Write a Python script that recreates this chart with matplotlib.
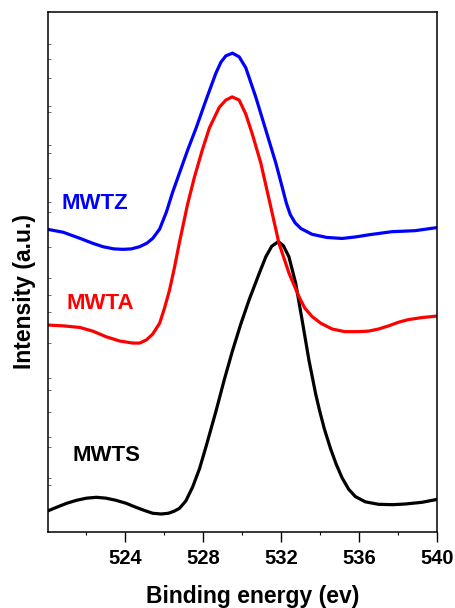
#!/usr/bin/env python3
"""O 1s XPS spectra of MWTS / MWTA / MWTZ, stacked."""

import matplotlib as mpl
import matplotlib.pyplot as plt

# binding energy (eV) and intensity (a.u., offset already applied)
MWTS_E = [520.0, 520.5, 520.98, 521.5, 522.0, 522.51, 523.0, 523.5, 524.04,
          524.5, 525.0, 525.4, 525.83, 526.2, 526.5, 526.77, 527.1, 527.45,
          527.8, 528.13, 528.64, 529.07, 529.47, 529.9, 530.34, 530.85, 531.2,
          531.5, 531.84, 532.1, 532.38, 532.73, 533.06, 533.41, 533.57, 533.75,
          533.95, 534.2, 534.51, 534.8, 535.11, 535.45, 535.79, 536.3, 536.98,
          537.7, 538.35, 539.2, 540.0]
MWTS_I = [4.03, 4.8, 5.51, 6.1, 6.5, 6.67, 6.5, 6.1, 5.51,
          4.8, 4.1, 3.6, 3.46, 3.6, 4.0, 4.55, 6.0, 8.7,
          12.2, 16.4, 23.2, 29.3, 34.6, 39.8, 44.6, 49.6, 52.9,
          54.9, 55.8, 55.0, 52.9, 47.8, 40.7, 33.0, 30.0, 26.6,
          23.4, 19.8, 16.1, 13.1, 10.4, 8.2, 6.8, 5.8, 5.32,
          5.25, 5.38, 5.7, 6.28]

MWTA_E = [520.0, 520.84, 521.66, 522.32, 523.02, 523.7, 524.38, 524.72, 525.07,
          525.39, 525.75, 526.0, 526.26, 526.5, 526.77, 527.18, 527.53, 527.94,
          528.3, 528.81, 529.15, 529.47, 529.83, 530.17, 530.51, 530.94, 531.45,
          531.87, 532.39, 532.9, 533.2, 533.57, 534.02, 534.6, 535.25, 535.96,
          536.47, 536.98, 537.49, 538.0, 538.5, 539.2, 540.0]
MWTA_I = [39.77, 39.6, 39.3, 38.6, 37.5, 36.7, 36.3, 36.3, 36.9,
          38.0, 40.1, 43.0, 46.5, 50.6, 55.7, 62.9, 68.1, 73.4,
          77.6, 81.6, 83.0, 83.6, 83.0, 80.3, 76.4, 70.9, 62.5,
          55.5, 49.7, 45.2, 43.0, 41.4, 40.1, 39.0, 38.5, 38.5,
          38.6, 39.0, 39.6, 40.3, 40.8, 41.2, 41.5]

MWTZ_E = [520.0, 520.8, 521.66, 522.3, 522.85, 523.4, 523.87, 524.3, 524.72,
          525.1, 525.4, 525.75, 526.1, 526.41, 526.77, 527.19, 527.62, 528.13,
          528.64, 528.9, 529.15, 529.49, 529.83, 530.17, 530.68, 531.2, 531.71,
          532.0, 532.25, 532.45, 532.7, 533.0, 533.57, 534.32, 535.11, 535.81,
          536.47, 537.66, 538.86, 540.0]
MWTZ_I = [58.16, 57.6, 56.43, 55.5, 54.81, 54.4, 54.31, 54.4, 54.81,
          55.5, 56.43, 58.2, 61.5, 65.2, 69.0, 73.4, 77.6, 83.0,
          88.2, 90.3, 91.5, 92.0, 91.3, 89.2, 83.6, 77.2, 70.9,
          66.8, 63.2, 61.0, 59.4, 58.3, 57.2, 56.6, 56.4, 56.7,
          57.1, 57.7, 57.9, 58.5]

XTICKS = [524, 528, 532, 536, 540]
XMINOR = [522, 526, 530, 534, 538]
YTICKS = [93.8, 90.9, 87.2, 81.8, 80.7, 74.4, 72.8, 68.0, 63.4, 61.5, 54.8,
          48.8, 45.5, 42.3, 36.3, 29.6, 27.3, 23.1, 18.3, 16.3, 10.4, 9.0]

mpl.rcParams.update({
    "font.family": ["Liberation Sans", "DejaVu Sans"],
    "font.weight": "bold",
})

fig = plt.figure(figsize=(4.55, 6.08), dpi=100)
ax = fig.add_axes([0.1044, 0.125, 0.857, 0.856])

lw = 2.3
for e, i, c in [(MWTS_E, MWTS_I, "black"),
                (MWTA_E, MWTA_I, "#FF0000"),
                (MWTZ_E, MWTZ_I, "#0000FF")]:
    ax.plot(e, i, color=c, lw=lw, solid_joinstyle="round",
            solid_capstyle="round")

ax.text(0.122, 0.632, "MWTZ", transform=ax.transAxes, color="#0000FF",
        fontsize=16, fontweight="bold", ha="center", va="center")
ax.text(0.136, 0.440, "MWTA", transform=ax.transAxes, color="#FF0000",
        fontsize=16, fontweight="bold", ha="center", va="center")
ax.text(0.152, 0.147, "MWTS", transform=ax.transAxes, color="black",
        fontsize=16, fontweight="bold", ha="center", va="center")

ax.set_xlim(520, 540)
ax.set_ylim(0, 100)
ax.set_xticks(XTICKS)
ax.set_xticks(XMINOR, minor=True)
ax.set_xticklabels([str(t) for t in XTICKS], fontsize=14.5, fontweight="bold")
ax.set_yticks(YTICKS)
ax.set_yticklabels([])

ax.tick_params(axis="x", which="major", direction="out", length=7, width=1.0,
               pad=5, top=False)
ax.tick_params(axis="x", which="minor", direction="out", length=2.5, width=0.8,
               top=False)
ax.tick_params(axis="y", which="major", direction="in", length=2, width=0.6,
               color="#555555", right=False)

for side in ax.spines.values():
    side.set_linewidth(1.1)

ax.set_xlabel("Binding energy (ev)", fontsize=16.5, fontweight="bold",
              va="center")
ax.xaxis.set_label_coords(0.527, -0.123)
ax.set_ylabel("Intensity (a.u.)", fontsize=16.5, fontweight="bold",
              va="center")
ax.yaxis.set_label_coords(-0.060, 0.463)

fig.savefig("out.png", dpi=100)
